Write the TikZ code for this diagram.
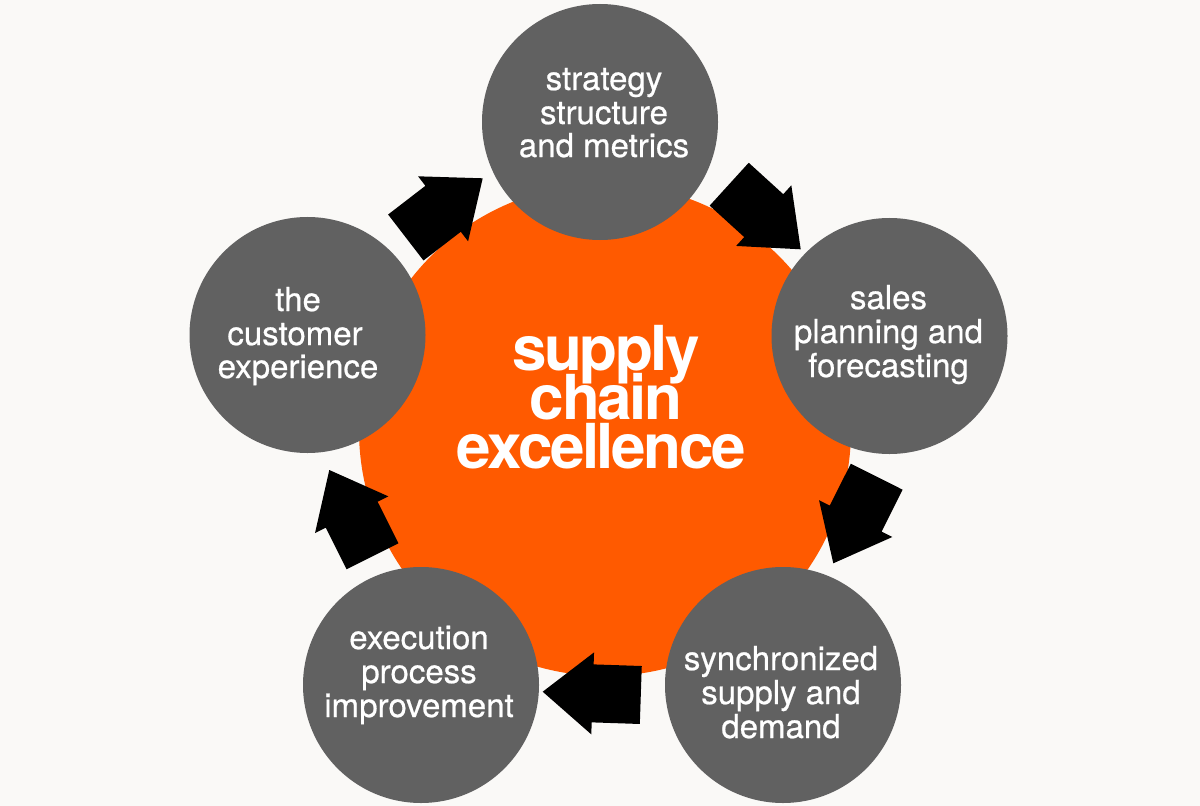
\documentclass[tikz,border=0pt]{standalone}
\usepackage{fontspec}
\setmainfont{TeX Gyre Heros}
\newfontfamily\bigfont[LetterSpace=-4]{TeX Gyre Heros}
\newfontfamily\stagefont[FakeBold=0.6]{TeX Gyre Heros}
\usetikzlibrary{calc}
\definecolor{bgc}{HTML}{FAF9F7}
\definecolor{grayc}{HTML}{616161}
\definecolor{orangec}{HTML}{FF5A00}
\newcommand\blockarrow[3]{%
  \coordinate (#1t) at #2;
  \coordinate (#1h) at #3;
  \coordinate (#1b) at ($(#1h)!50bp!(#1t)$);
  \fill[arrowfill] ($(#1t)!29bp!90:(#1h)$) -- ($(#1b)!29bp!90:(#1h)$) -- ($(#1b)!41bp!90:(#1h)$) -- (#1h)
    -- ($(#1b)!41bp!-90:(#1h)$) -- ($(#1b)!29bp!-90:(#1h)$) -- ($(#1t)!29bp!-90:(#1h)$) -- cycle;
}
\begin{document}
\begin{tikzpicture}[x=1bp,y=-1bp,
  core/.style={circle,fill=orangec,draw=none,inner sep=0pt,minimum size=492bp},
  stage/.style={circle,fill=grayc,draw=none,inner sep=0pt,minimum size=236bp},
  arrowfill/.style={fill=black},
  lbl/.style={text=white,anchor=base,inner sep=0pt,font=\stagefont\fontsize{33bp}{34bp}\selectfont},
  biglbl/.style={text=white,anchor=base,inner sep=0pt,font=\bigfont\bfseries\fontsize{62bp}{49bp}\selectfont}]
\fill[bgc] (0,0) rectangle (1200,806);
\useasboundingbox (0,0) rectangle (1200,806);
\node[core] (core) at (605,430) {};
% arrows (clockwise)
\blockarrow{a1}{(405.8,237.5)}{(482.7,178.3)}
\blockarrow{a2}{(729.2,184.2)}{(800.7,249.3)}
\blockarrow{a3}{(876.7,476.7)}{(833.3,563.3)}
\blockarrow{a4}{(640.8,695)}{(542.7,691.7)}
\blockarrow{a5}{(372.5,556.3)}{(329.3,470)}
% stage circles
\node[stage] (s1) at (600,122) {};
\node[stage] (s2) at (889.5,336) {};
\node[stage] (s3) at (783,685) {};
\node[stage] (s4) at (421,685) {};
\node[stage] (s5) at (307.5,335) {};
% centre text
\node[biglbl] (c1) at (606,370) {supply};
\node[biglbl] (c2) at (606,419) {chain};
\node[biglbl] (c3) at (601,468) {excellence};
% stage texts
\node[lbl] (s1a) at (604,90) {strategy};
\node[lbl] (s1b) at (604,124) {structure};
\node[lbl] (s1c) at (604,157) {and metrics};
\node[lbl] (s2a) at (888.5,309) {sales};
\node[lbl] (s2b) at (888.5,343) {planning and};
\node[lbl] (s2c) at (888.5,377) {forecasting};
\node[lbl] (s3a) at (781,670) {synchronized};
\node[lbl] (s3b) at (781,704) {supply and};
\node[lbl] (s3c) at (781,738) {demand};
\node[lbl] (s4a) at (419,649) {execution};
\node[lbl] (s4b) at (419,683) {process};
\node[lbl] (s4c) at (419,717) {improvement};
\node[lbl] (s5a) at (298,311) {the};
\node[lbl] (s5b) at (295,345) {customer};
\node[lbl] (s5c) at (298,378) {experience};
\end{tikzpicture}
\end{document}
